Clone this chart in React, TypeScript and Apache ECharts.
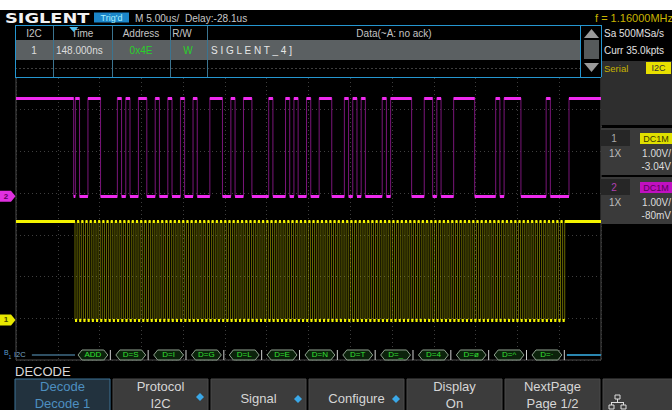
import React, { useEffect, useRef } from "react";
import * as echarts from "echarts";

const FONT = "'Liberation Sans', 'DejaVu Sans', Arial, sans-serif";

// ---------- scope settings ----------
const timebaseUsPerDiv = 5;
const horizontalDivs = 14;
const verticalDivs = 8;
const delayUs = -28.1;
const ch1VoltsPerDiv = 1.0;
const ch1OffsetV = -3.04; // SCL, yellow
const ch2VoltsPerDiv = 1.0;
const ch2OffsetV = -0.08; // SDA, magenta
const logicHighV = 2.36;

// ---------- I2C frame ----------
const clockStartUs = 7.06;
const bitPeriodUs = 0.503;
const stopUs = 66.17;
const busLevelDiv = 0.12;
const busLineStartUs = 1.9;

const byteLabels = ["ADD", "D=S", "D=I", "D=G", "D=L", "D=E", "D=N", "D=T", "D=_", "D=4", "D=ø", "D=^", "D=·"];
const byteBits = [
  "10011100", "01010011", "01001001", "01000111", "01001100", "01000101", "01001110",
  "01010100", "01011111", "00110100", "11111000", "01011110", "00001000",
];
const ackBits = ["0", "0", "0", "0", "0", "0", "0", "0", "0", "0", "0", "0", "0"];

// ---------- texts ----------
const headerTitle = "SIGLENT";
const trigState = "Trig'd";
const timebaseText = "M 5.00us/  Delay:-28.1us";
const freqText = "f = 1.16000MHz";
const tableHeaders = ["I2C", "Time", "Address", "R/W", "Data(~A: no ack)"];
const tableRow = ["1", "148.000ns", "0x4E", "W", "S I G L E N T _ 4 ]"];
const sampleTexts = ["Sa 500MSa/s", "Curr 35.0kpts"];
const ch1Texts = ["1", "DC1M", "1X", "1.00V/", "-3.04V"];
const ch2Texts = ["2", "DC1M", "1X", "1.00V/", "-80mV"];
const menuTop = ["Decode", "Protocol", "Signal", "Configure", "Display", "NextPage"];
const menuBottom = ["Decode 1", "I2C", "", "", "On", "Page 1/2"];
const menuKnob = [false, true, true, true, false, false];

const GRID = { left: 16, top: 26, width: 585, height: 334 };

function buildOption() {
  const xMax = timebaseUsPerDiv * horizontalDivs;
  const pxPerUs = GRID.width / xMax;
  const pxPerDiv = GRID.height / verticalDivs;
  const toDiv = (v: number, off: number, vpd: number) => verticalDivs / 2 + (v + off) / vpd;
  const toPy = (d: number) => GRID.top + GRID.height - d * pxPerDiv;
  const sdaHi = toDiv(logicHighV, ch2OffsetV, ch2VoltsPerDiv);
  const sdaLo = toDiv(0, ch2OffsetV, ch2VoltsPerDiv);
  const sclHi = toDiv(logicHighV, ch1OffsetV, ch1VoltsPerDiv);
  const sclLo = toDiv(0, ch1OffsetV, ch1VoltsPerDiv);
  const trigUs = xMax / 2 + delayUs;
  const T = bitPeriodUs;

  const bits: number[] = [];
  byteBits.forEach((b, i) => {
    for (const c of b) bits.push(c === "1" ? 1 : 0);
    bits.push(ackBits[i] === "1" ? 1 : 0);
  });
  const N = bits.length;

  // SDA
  const sdaEdge: number[][] = [[0, sdaHi], [trigUs, sdaHi], [trigUs, sdaLo]];
  const sdaSegs: any[] = [{ coords: [[0, sdaHi], [trigUs, sdaHi]] }];
  let cur = 0;
  let segStart = trigUs;
  bits.forEach((b, i) => {
    const tc = clockStartUs + i * T + 0.08 * T;
    if (b !== cur) {
      const yc = cur ? sdaHi : sdaLo;
      const yn = b ? sdaHi : sdaLo;
      sdaEdge.push([tc, yc], [tc, yn]);
      sdaSegs.push({ coords: [[segStart, yc], [tc, yc]] });
      segStart = tc;
      cur = b;
    }
  });
  {
    const yc = cur ? sdaHi : sdaLo;
    sdaEdge.push([stopUs, yc], [stopUs, sdaHi], [xMax, sdaHi]);
    sdaSegs.push({ coords: [[segStart, yc], [stopUs, yc]] });
    sdaSegs.push({ coords: [[stopUs, sdaHi], [xMax, sdaHi]] });
  }

  // SCL
  const sclEdge: number[][] = [[0, sclHi]];
  const sclSegs: any[] = [{ coords: [[0, sclHi], [clockStartUs, sclHi]] }];
  for (let i = 0; i < N; i++) {
    const t = clockStartUs + i * T;
    const tm = t + T / 2;
    const te = t + T;
    sclEdge.push([t, sclHi], [t, sclLo], [tm, sclLo], [tm, sclHi]);
    sclSegs.push({ coords: [[t, sclLo], [tm, sclLo]] });
    if (i < N - 1) sclSegs.push({ coords: [[tm, sclHi], [te, sclHi]] });
    else sclSegs.push({ coords: [[tm, sclHi], [xMax, sclHi]] });
  }
  sclEdge.push([xMax, sclHi]);

  const busData = byteLabels.map((_, i) => [clockStartUs + i * 9 * T, clockStartUs + (i + 1) * 9 * T, busLevelDiv]);
  const busEnd = clockStartUs + N * T;

  // ---------- graphic elements ----------
  const els: any[] = [];
  const TX = (x: number, y: number, s: string, size: number, fill: string, o: any = {}) => {
    const align = o.align ?? "left";
    els.push({
      type: "text", x, y, z: o.z ?? 40, scaleX: o.sx ?? 1, silent: true,
      style: {
        text: s, fill, font: `${o.weight ?? "normal"} ${size}px ${o.family ?? FONT}`,
        textAlign: align, textVerticalAlign: "middle", align, verticalAlign: "middle",
      },
    });
  };
  const RC = (x: number, y: number, w: number, h: number, fill: string | null, stroke: string | null = null, z = 30) =>
    els.push({ type: "rect", z, silent: true, shape: { x, y, width: w, height: h }, style: { fill: fill ?? "none", stroke: stroke ?? "none", lineWidth: 1 } });
  const LN = (x1: number, y1: number, x2: number, y2: number, stroke: string, lw = 1, z = 35, dash?: number[]) =>
    els.push({ type: "line", z, silent: true, shape: { x1, y1, x2, y2 }, style: { stroke, lineWidth: lw, lineDash: dash ?? null } });
  const PG = (points: number[][], fill: string, z = 35, stroke: string | null = null) =>
    els.push({ type: "polygon", z, silent: true, shape: { points }, style: { fill, stroke: stroke ?? "none" } });

  // top strip and header
  RC(0, 0, 672, 10, "#ffffff", null, 50);
  RC(0, 10, 672, 15, "#000000", null, 30);
  TX(5, 18, headerTitle, 14, "#f2f2f2", { weight: "bold", family: "'DejaVu Sans', sans-serif", sx: 1.27 });
  RC(94, 12.5, 35, 10, "#1b86c9", null, 36);
  TX(111.5, 17.5, trigState, 9, "#a8f0ff", { align: "center" });
  TX(135, 18, timebaseText, 11, "#c8c8c8", { sx: 0.92 });
  TX(673, 17.5, freqText, 11, "#c8b400", { align: "right" });

  // decode table
  const cols = [15, 53, 112, 170, 207, 580];
  RC(15, 25, 565, 15, "#000000", null, 30);
  RC(15, 40, 565, 20, "#5b6062", null, 30);
  RC(15, 60, 565, 17, "#000000", null, 29);
  LN(15, 68.5, 580, 68.5, "#3e3e3e", 1, 31, [2, 2]);
  for (let i = 1; i < cols.length - 1; i++) LN(cols[i] + 0.5, 25, cols[i] + 0.5, 77, "#3b7490", 1, 34);
  LN(15.5, 25, 15.5, 77, "#2596d0", 1, 36);
  LN(15, 25.5, 601, 25.5, "#2596d0", 1, 36);
  LN(15, 77.5, 601, 77.5, "#2596d0", 1, 36);
  LN(580.5, 25, 580.5, 77, "#2596d0", 1, 36);
  LN(601.5, 25, 601.5, 77, "#2596d0", 1, 36);
  RC(581, 26, 20, 51, "#000000", null, 31);
  PG([[591.5, 29], [584, 38], [599, 38]], "#9a9a9a", 36);
  RC(584, 40, 15, 19, "#565a5b", null, 36);
  PG([[584, 63], [599, 63], [591.5, 72]], "#9a9a9a", 36);
  const hx = [34, 82.5, 141, 182, 394];
  tableHeaders.forEach((h, i) => TX(hx[i], 33, h, 10, "#c4c4c4", { align: "center" }));
  TX(34, 50, tableRow[0], 10, "#dddddd", { align: "center" });
  TX(56, 50, tableRow[1], 10, "#dddddd");
  TX(141, 50, tableRow[2], 10, "#2ad02a", { align: "center" });
  TX(188, 50, tableRow[3], 10, "#2ad02a", { align: "center" });
  TX(211, 50, tableRow[4], 10, "#e6e6e6");
  // trigger position marker
  const trigPx = GRID.left + trigUs * pxPerUs;
  PG([[trigPx - 4.5, 27], [trigPx + 4.5, 27], [trigPx, 32]], "#4cc0f0", 40);

  // right panel
  TX(604, 33, sampleTexts[0], 10, "#e2e2e2");
  TX(604, 50, sampleTexts[1], 10, "#e2e2e2");
  RC(601, 61, 71, 64, "#2e2e2e", null, 30);
  TX(604, 68, "Serial", 9.5, "#c8b400");
  RC(646, 62, 25, 12, "#e8e000", null, 36);
  TX(658.5, 68, "I2C", 9, "#333333", { align: "center" });

  const chPanel = (y0: number, t: string[], boxFill: string, boxText: string, numFill: string) => {
    RC(601, y0, 71, 47, "#3a3a3a", null, 30);
    RC(601, y0 + 2, 29, 16, "#262626", null, 32);
    TX(614, y0 + 10, t[0], 10, numFill, { align: "center" });
    RC(640, y0 + 5, 32, 11, boxFill, null, 33);
    TX(656, y0 + 10.5, t[1], 9, boxText, { align: "center" });
    TX(609, y0 + 25, t[2], 10, "#bdbdbd");
    TX(671, y0 + 25, t[3], 10, "#dcdcdc", { align: "right" });
    TX(671, y0 + 38, t[4], 10, "#dcdcdc", { align: "right" });
  };
  chPanel(128, ch1Texts, "#e0e000", "#3a3a00", "#a8a8a8");
  chPanel(177, ch2Texts, "#c010c0", "#5a005a", "#b040b0");

  // channel markers on the left edge
  const m2 = toPy(sdaLo);
  PG([[0, m2 - 5.5], [11, m2 - 5.5], [15.5, m2], [11, m2 + 5.5], [0, m2 + 5.5]], "#e030e0", 40);
  TX(6, m2, "2", 8, "#600060", { align: "center", weight: "bold" });
  const m1 = toPy(sclLo);
  PG([[0, m1 - 5.5], [11, m1 - 5.5], [15.5, m1], [11, m1 + 5.5], [0, m1 + 5.5]], "#e8e800", 40);
  TX(6, m1, "1", 8, "#4a4a00", { align: "center", weight: "bold" });

  // bus label
  const busPy = toPy(busLevelDiv);
  TX(4, busPy - 2, "B", 7, "#5a9ccc");
  TX(8.5, busPy + 2.5, "1", 5, "#5a9ccc");
  TX(14, busPy, "I2C", 7.5, "#7aa8c8");

  // bottom menu
  TX(15, 371, "DECODE", 13, "#d8d8d8");
  menuTop.forEach((m, i) => {
    const x0 = 15 + i * 98;
    const active = i === 0;
    RC(x0, 379, 95, 40, active ? "#22323e" : "#3c3c3c", active ? "#3d7396" : "#4a4a4a", 30);
    const cx = x0 + 47.5;
    const col = active ? "#4d8fc0" : "#d6d6d6";
    if (menuBottom[i]) {
      TX(cx, 386, m, 13, col, { align: "center" });
      TX(cx, 403, menuBottom[i], 13, col, { align: "center" });
    } else {
      TX(cx, 398, m, 13, col, { align: "center" });
    }
    if (menuKnob[i]) {
      const kx = x0 + 87;
      const ky = menuBottom[i] ? 397 : 399;
      PG([[kx, ky - 4], [kx + 4, ky], [kx, ky + 4], [kx - 4, ky]], "#3aa8e8", 41);
    }
  });
  RC(603, 379, 75, 40, "#3c3c3c", "#4a4a4a", 30);
  // network-style icon
  RC(615, 395, 5, 4, "none", "#dddddd", 41);
  LN(617.5, 399, 617.5, 402, "#dddddd", 1, 41);
  LN(611.5, 402.5, 623.5, 402.5, "#dddddd", 1, 41);
  LN(611.5, 402, 611.5, 405, "#dddddd", 1, 41);
  LN(623.5, 402, 623.5, 405, "#dddddd", 1, 41);
  RC(609, 405, 5, 4, "none", "#dddddd", 41);
  RC(621, 405, 5, 4, "none", "#dddddd", 41);

  return {
    animation: false,
    backgroundColor: "#000000",
    grid: { ...GRID, show: true, borderColor: "#4c4c4c", borderWidth: 1, backgroundColor: "transparent" },
    xAxis: {
      type: "value", min: 0, max: xMax, interval: timebaseUsPerDiv,
      axisLine: { show: false }, axisTick: { show: false }, axisLabel: { show: false },
      splitLine: { show: true, lineStyle: { color: "#3e3e3e", type: [1, 3], width: 1 } },
    },
    yAxis: {
      type: "value", min: 0, max: verticalDivs, interval: 1,
      axisLine: { show: false }, axisTick: { show: false }, axisLabel: { show: false },
      splitLine: { show: true, lineStyle: { color: "#3e3e3e", type: [1, 3], width: 1 } },
    },
    series: [
      {
        type: "line", name: "SDA edges", data: sdaEdge, symbol: "none", silent: true, z: 2,
        lineStyle: { color: "#7a167a", width: 1 },
      },
      {
        type: "lines", name: "SDA levels", coordinateSystem: "cartesian2d", data: sdaSegs, silent: true, z: 3,
        lineStyle: { color: "#ee2aee", width: 3, opacity: 1, cap: "butt" },
      },
      {
        type: "line", name: "SCL edges", data: sclEdge, symbol: "none", silent: true, z: 2,
        lineStyle: { color: "rgba(190,190,0,0.55)", width: 1 },
      },
      {
        type: "lines", name: "SCL levels", coordinateSystem: "cartesian2d", data: sclSegs, silent: true, z: 3,
        lineStyle: { color: "#f4f400", width: 3, opacity: 1, cap: "butt" },
      },
      {
        type: "lines", name: "bus", coordinateSystem: "cartesian2d", silent: true, z: 3,
        data: [
          { coords: [[busLineStartUs, busLevelDiv], [clockStartUs, busLevelDiv]], lineStyle: { color: "#3f6b86", width: 1.5, opacity: 1 } },
          { coords: [[busEnd, busLevelDiv], [xMax, busLevelDiv]], lineStyle: { color: "#2a86b0", width: 2, opacity: 1 } },
        ],
        lineStyle: { opacity: 1 },
      },
      {
        type: "custom", name: "decode", silent: true, z: 4, data: busData,
        encode: { x: [0, 1], y: 2 },
        renderItem: (params: any, api: any) => {
          const p0 = api.coord([api.value(0), api.value(2)]);
          const p1 = api.coord([api.value(1), api.value(2)]);
          const x0 = p0[0] + 3;
          const x1 = p1[0] - 5;
          const yc = p0[1];
          const h = 5;
          const label = byteLabels[params.dataIndex];
          return {
            type: "group",
            children: [
              {
                type: "polygon",
                shape: { points: [[x0, yc], [x0 + 4, yc - h], [x1 - 4, yc - h], [x1, yc], [x1 - 4, yc + h], [x0 + 4, yc + h]] },
                style: { fill: "#0b220b", stroke: "#8fa08f", lineWidth: 1 },
              },
              {
                type: "text",
                style: { text: label, x: (x0 + x1) / 2, y: yc, fill: "#33e033", font: `8px ${FONT}`, textAlign: "center", textVerticalAlign: "middle", align: "center", verticalAlign: "middle" },
              },
              { type: "line", shape: { x1: p1[0] - 2.5, y1: yc - 5, x2: p1[0] - 2.5, y2: yc + 5 }, style: { stroke: "#cfcfcf", lineWidth: 1 } },
            ],
          };
        },
      },
    ],
    graphic: { elements: els },
  };
}

export default function App() {
  const ref = useRef<HTMLDivElement>(null);
  useEffect(() => {
    if (!ref.current) return;
    const chart = echarts.init(ref.current, null, { renderer: "svg" });
    chart.setOption(buildOption() as any);
    return () => chart.dispose();
  }, []);
  return (
    <div
      ref={ref}
      style={{ position: "fixed", left: 0, top: 0, width: 672, height: 410, background: "#000" }}
    />
  );
}
